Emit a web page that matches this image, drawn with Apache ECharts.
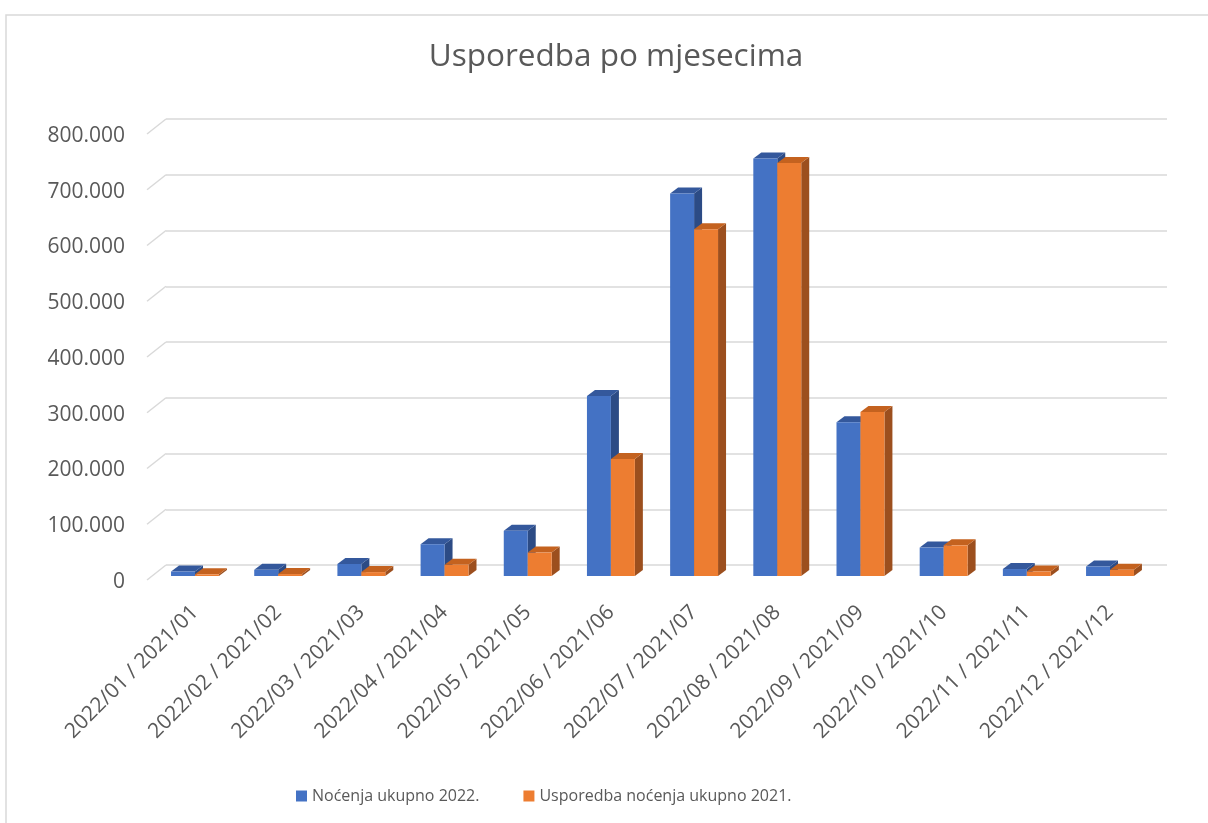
<!DOCTYPE html>
<html>
<head>
<meta charset="utf-8">
<script src="https://cdn.jsdelivr.net/npm/echarts@6/dist/echarts.min.js"></script>
<style>html,body{margin:0;padding:0;background:#fff;}#c{width:1208px;height:823px;}</style>
</head>
<body>
<div id="c"></div>
<script>
var categories = ['2022/01 / 2021/01','2022/02 / 2021/02','2022/03 / 2021/03','2022/04 / 2021/04','2022/05 / 2021/05','2022/06 / 2021/06','2022/07 / 2021/07','2022/08 / 2021/08','2022/09 / 2021/09','2022/10 / 2021/10','2022/11 / 2021/11','2022/12 / 2021/12'];
var nocenja2022 = [8000, 11000, 21500, 57000, 81000, 323000, 686000, 749000, 276000, 51000, 12500, 17000];
var nocenja2021 = [3000, 3500, 7000, 20000, 42000, 210000, 622000, 741000, 294000, 55000, 8000, 11000];
var yTicks = [0, 100000, 200000, 300000, 400000, 500000, 600000, 700000, 800000];
var seriesNames = ['Noćenja ukupno 2022.', 'Usporedba noćenja ukupno 2021.'];

var FONT = 'Open Sans';
var TXT = '#595959';
var GRIDC = '#d9d9d9';

function fmt(v) {
  var s = String(Math.round(v));
  return s.replace(/\B(?=(\d{3})+(?!\d))/g, '.');
}

var colors = [
  {front: '#4472C4', top: '#34589C', side: '#2C4B85'},
  {front: '#ED7D31', top: '#C4621F', side: '#9C4F1E'}
];

function barRenderer(sideIdx) {
  return function (params, api) {
    var cat = api.value(0), val = api.value(1);
    var base = api.coord([cat, 0]);
    var top = api.coord([cat, val]);
    var band = api.size([1, 0])[0];
    var w = band * 0.288;
    var x0 = sideIdx === 0 ? base[0] - w : base[0];
    var x1 = x0 + w;
    var yb = base[1], yt = top[1];
    var dx = 8, dy = -6;
    var c = colors[sideIdx];
    return {
      type: 'group',
      children: [
        {type: 'polygon', shape: {points: [[x1, yt], [x1 + dx, yt + dy], [x1 + dx, yb + dy], [x1, yb]]}, style: {fill: c.side}},
        {type: 'polygon', shape: {points: [[x0, yt], [x0 + dx, yt + dy], [x1 + dx, yt + dy], [x1, yt]]}, style: {fill: c.top}},
        {type: 'rect', shape: {x: x0, y: yt, width: w, height: yb - yt}, style: {fill: c.front}}
      ]
    };
  };
}

var chart = echarts.init(document.getElementById('c'), null, {renderer: 'canvas'});
var option = {
  animation: false,
  backgroundColor: '#fff',
  textStyle: {fontFamily: FONT},
  graphic: [{
    type: 'rect', left: 3.5, top: 12.5, silent: true, z: -10,
    shape: {x: 0, y: 0, width: 1300, height: 900},
    style: {fill: 'none', stroke: GRIDC, lineWidth: 1.5}
  }],
  title: {
    text: 'Usporedba po mjesecima',
    left: 611, top: 36, textAlign: 'center',
    textStyle: {fontFamily: FONT, fontSize: 31.5, fontWeight: 'normal', color: TXT}
  },
  legend: {
    left: 291, top: 783,
    itemWidth: 11, itemHeight: 11, itemGap: 44,
    icon: 'rect',
    data: seriesNames,
    textStyle: {fontFamily: FONT, fontSize: 16, color: TXT}
  },
  grid: [
    {left: 166, right: 41, top: 119, bottom: 258},
    {left: 153.4, right: 56.4, top: 130, bottom: 247},
    {left: 147, right: 41, top: 136, bottom: 241}
  ],
  xAxis: [
    {gridIndex: 0, type: 'value', min: 0, max: 1, show: false},
    {gridIndex: 1, type: 'category', data: categories,
      axisLine: {show: false}, axisTick: {show: false},
      axisLabel: {rotate: 45, margin: 33, interval: 0, fontFamily: FONT, fontSize: 21, color: TXT}},
    {gridIndex: 2, type: 'value', min: 0, max: 1, show: false}
  ],
  yAxis: [
    {gridIndex: 0, type: 'value', min: 0, max: 800000, interval: 100000,
      axisLine: {show: false}, axisTick: {show: false}, axisLabel: {show: false},
      splitLine: {show: true, lineStyle: {color: GRIDC, width: 1.5}}},
    {gridIndex: 1, type: 'value', min: 0, max: 800000, interval: 100000, show: false},
    {gridIndex: 2, type: 'value', min: 0, max: 800000, interval: 100000,
      axisLine: {show: false}, axisTick: {show: false}, splitLine: {show: false},
      axisLabel: {margin: 22, fontFamily: FONT, fontSize: 21, color: TXT, formatter: fmt}}
  ],
  series: [
    {
      type: 'custom', name: 'diag', xAxisIndex: 0, yAxisIndex: 0, silent: true,
      data: yTicks.map(function (v) { return [0, v]; }),
      renderItem: function (params, api) {
        var p = api.coord([0, api.value(1)]);
        return {type: 'line', shape: {x1: p[0] - 19, y1: p[1] + 15, x2: p[0], y2: p[1]}, style: {stroke: GRIDC, lineWidth: 1.5}};
      }
    },
    {
      type: 'custom', name: seriesNames[0], xAxisIndex: 1, yAxisIndex: 1,
      itemStyle: {color: colors[0].front},
      encode: {x: 0, y: 1},
      data: nocenja2022.map(function (v, i) { return [i, v]; }),
      renderItem: barRenderer(0)
    },
    {
      type: 'custom', name: seriesNames[1], xAxisIndex: 1, yAxisIndex: 1,
      itemStyle: {color: colors[1].front},
      encode: {x: 0, y: 1},
      data: nocenja2021.map(function (v, i) { return [i, v]; }),
      renderItem: barRenderer(1)
    }
  ]
};
chart.setOption(option);
</script>
</body>
</html>
